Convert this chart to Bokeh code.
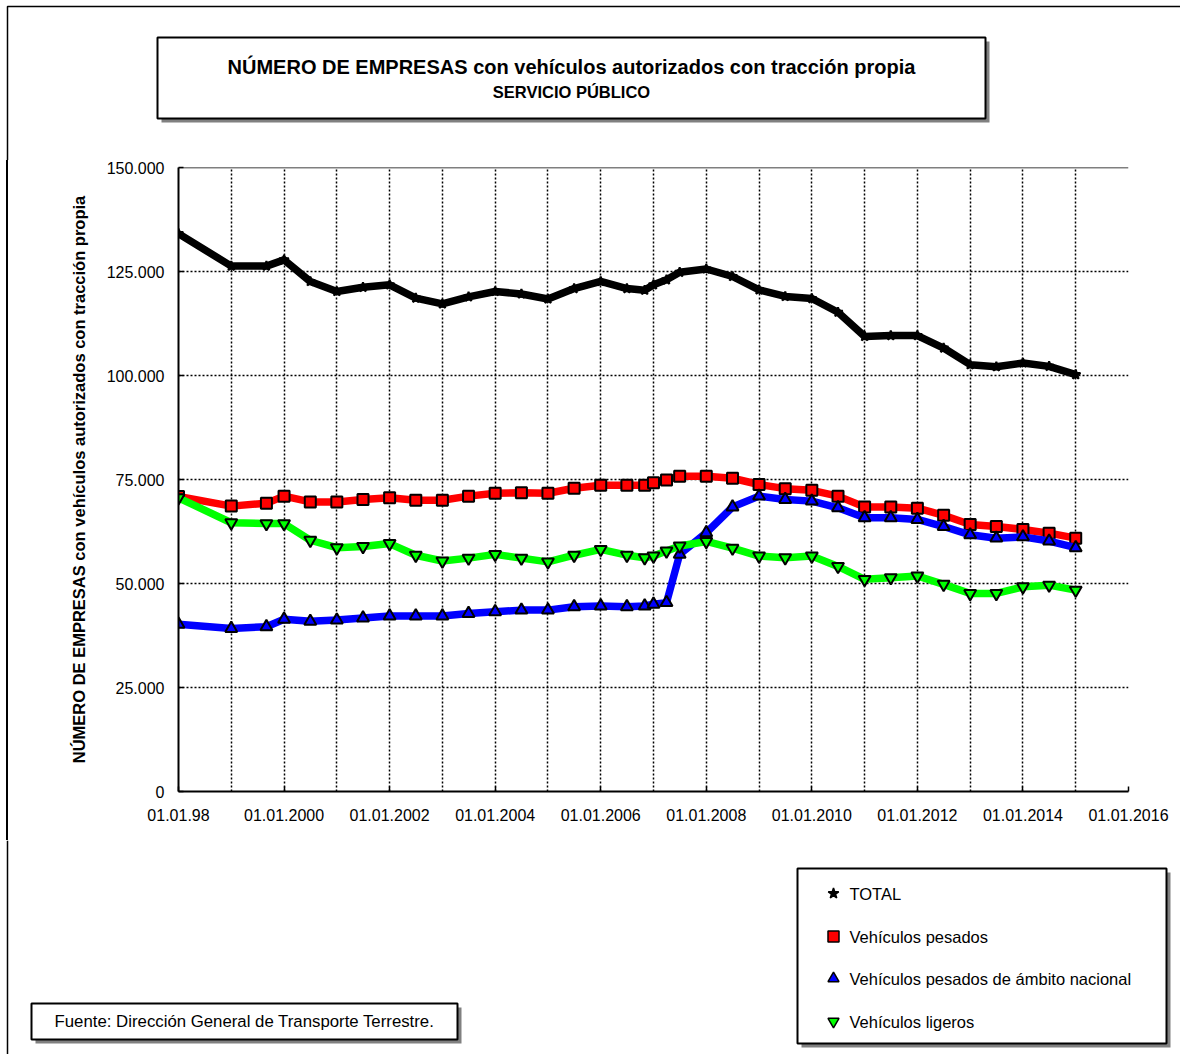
from datetime import date

from bokeh.plotting import figure
from bokeh.layouts import column, row
from bokeh.models import Range1d, FixedTicker, Label, Span, Div, Spacer
from bokeh.embed import file_html
from bokeh.resources import INLINE

# ---------------- data ----------------
dates = ["01.01.1998", "01.01.1999", "01.09.1999", "01.01.2000", "01.07.2000",
         "01.01.2001", "01.07.2001", "01.01.2002", "01.07.2002", "01.01.2003",
         "01.07.2003", "01.01.2004", "01.07.2004", "01.01.2005", "01.07.2005",
         "01.01.2006", "01.07.2006", "01.11.2006", "01.01.2007", "01.04.2007",
         "01.07.2007", "01.01.2008", "01.07.2008", "01.01.2009", "01.07.2009",
         "01.01.2010", "01.07.2010", "01.01.2011", "01.07.2011", "01.01.2012",
         "01.07.2012", "01.01.2013", "01.07.2013", "01.01.2014", "01.07.2014",
         "01.01.2015"]

total = [134100, 126300, 126300, 127800, 122600, 120200, 121200, 121800, 118600,
         117200, 118900, 120200, 119600, 118400, 120900, 122600, 120900, 120500,
         121800, 123000, 124800, 125600, 123800, 120600, 119000, 118500, 115200,
         109400, 109600, 109600, 106600, 102600, 102100, 103000, 102200, 100200]

pesados = [70900, 68600, 69300, 71000, 69600, 69600, 70200, 70600, 70000,
           70000, 71000, 71700, 71800, 71700, 72900, 73600, 73600, 73600,
           74200, 74900, 75800, 75800, 75300, 73800, 72800, 72400, 71000,
           68400, 68400, 68100, 66400, 64200, 63700, 63000, 62100, 60900]

nacional = [40200, 39200, 39600, 41400, 40900, 41200, 41700, 42200, 42200,
            42200, 42800, 43200, 43600, 43600, 44400, 44600, 44400, 44600,
            45000, 45400, 57000, 62200, 68400, 71000, 70200, 69800, 68200,
            65800, 65800, 65400, 63700, 61700, 60900, 61200, 60200, 58600]

ligeros = [70600, 64600, 64400, 64400, 60400, 58600, 58900, 59600, 56800,
           55400, 56100, 57000, 56100, 55200, 56800, 58200, 56800, 56200,
           56600, 57800, 59000, 60100, 58500, 56600, 56200, 56600, 54100,
           51000, 51400, 51800, 49800, 47600, 47600, 49200, 49600, 48400]

series_names = ["TOTAL", "Vehículos pesados",
                "Vehículos pesados de ámbito nacional", "Vehículos ligeros"]

x_tick_years = [1998, 2000, 2002, 2004, 2006, 2008, 2010, 2012, 2014, 2016]
x_tick_labels = ["01.01.98", "01.01.2000", "01.01.2002", "01.01.2004",
                 "01.01.2006", "01.01.2008", "01.01.2010", "01.01.2012",
                 "01.01.2014", "01.01.2016"]
x_grid_years = list(range(1998, 2017))

y_ticks = [0, 25000, 50000, 75000, 100000, 125000, 150000]
y_tick_labels = ["0", "25.000", "50.000", "75.000", "100.000", "125.000", "150.000"]

title_text = "NÚMERO DE EMPRESAS con vehículos autorizados con tracción propia"
subtitle_text = "SERVICIO PÚBLICO"
ylabel_text = "NÚMERO DE EMPRESAS con vehículos autorizados con tracción propia"
source_text = "Fuente: Dirección General de Transporte Terrestre."


def frac_year(s):
    d, m, y = map(int, s.split("."))
    start, end = date(y, 1, 1), date(y + 1, 1, 1)
    return y + (date(y, m, d) - start).days / (end - start).days


xs = [frac_year(s) for s in dates]

# ---------------- layout geometry (page pixels) ----------------
FONT = "Liberation Sans"
W = 1180
TOP_H = 160                 # title band: y 0..160
MID_Y0, MID_H = 160, 680    # chart band: y 160..840
BOT_Y0, BOT_H = 840, 214    # bottom band: y 840..1054
PAD_W, LINE_W = 6, 2        # outer frame line in the chart band: x 6..8
STRIP_W = PAD_W + LINE_W
FR_L, FR_T, FR_R, FR_B = 178, 167, 1128, 791
FRAME_X, FRAME_Y = 7, 6     # outer frame lines

colors = ["black", "#ff0000", "#0000ff", "#00ff00"]
markers = ["star", "square", "triangle", "inverted_triangle"]
sizes = [10, 11, 12, 12]


def deco_fig(width, height, x0, y0):
    f = figure(width=width, height=height,
               x_range=Range1d(x0, x0 + width), y_range=Range1d(y0 + height, y0),
               min_border=0, x_axis_location=None, y_axis_location=None,
               toolbar_location=None, output_backend="svg",
               outline_line_color=None, background_fill_color="white",
               border_fill_color="white")
    f.xgrid.visible = False
    f.ygrid.visible = False
    return f


def boxed(f, l, t, r, b):
    f.quad(left=l + 4, right=r + 4, top=t + 4, bottom=b + 4,
           fill_color="#808080", line_alpha=0)
    f.quad(left=l, right=r, top=t, bottom=b, fill_color="white",
           line_color="black", line_width=2)


def text(f, x, y, s, size, bold=False, align="center"):
    f.add_layout(Label(x=x, y=y, text=s, text_align=align, text_baseline="middle",
                       text_font=FONT, text_font_size=size,
                       text_font_style="bold" if bold else "normal",
                       text_color="black"))


# ---------------- top band ----------------
top = deco_fig(W, TOP_H, 0, 0)
top.line([FRAME_X, FRAME_X, W], [TOP_H, FRAME_Y, FRAME_Y], line_color="black",
         line_width=1.5)
boxed(top, 157, 37, 985, 118)
text(top, 571, 66, title_text, "20px", bold=True)
text(top, 571, 91, subtitle_text, "16.5px", bold=True)

# ---------------- left frame line of the chart band ----------------
pad = Spacer(width=PAD_W, height=MID_H, margin=0)
vline = Div(text="", width=LINE_W, height=MID_H, margin=0,
            styles={"background-color": "black", "padding": "0"})

# ---------------- main chart ----------------
p = figure(frame_width=FR_R - FR_L, frame_height=FR_B - FR_T,
           min_border_left=FR_L - STRIP_W, min_border_top=FR_T - MID_Y0,
           min_border_right=W - FR_R, min_border_bottom=MID_Y0 + MID_H - FR_B,
           x_range=Range1d(1998, 2016), y_range=Range1d(0, 150000),
           output_backend="svg", toolbar_location=None,
           background_fill_color="white", border_fill_color="white",
           outline_line_color=None)

p.xaxis.ticker = FixedTicker(ticks=x_tick_years)
p.xaxis.major_label_overrides = {t: l for t, l in zip(x_tick_years, x_tick_labels)}
p.yaxis.ticker = FixedTicker(ticks=y_ticks)
p.yaxis.major_label_overrides = {t: l for t, l in zip(y_ticks, y_tick_labels)}
for ax in (p.xaxis[0], p.yaxis[0]):
    ax.axis_line_color = "black"
    ax.axis_line_width = 2
    ax.major_tick_in = 5
    ax.major_tick_out = 0
    ax.major_tick_line_color = "black"
    ax.major_tick_line_width = 1.5
    ax.minor_tick_line_color = None
    ax.major_label_text_font = FONT
    ax.major_label_text_font_size = "16px"
    ax.major_label_text_color = "black"
    ax.major_label_standoff = 14
p.xaxis.major_label_standoff = 17
p.yaxis.axis_label = ylabel_text
p.yaxis.axis_label_text_font = FONT
p.yaxis.axis_label_text_font_size = "16.5px"
p.yaxis.axis_label_text_font_style = "bold"
p.yaxis.axis_label_text_color = "black"
p.yaxis.axis_label_standoff = 16

p.xgrid.ticker = FixedTicker(ticks=x_grid_years)
p.ygrid.ticker = FixedTicker(ticks=y_ticks)
for g in (p.xgrid[0], p.ygrid[0]):
    g.grid_line_color = "black"
    g.grid_line_dash = "2 2"
    g.grid_line_width = 1.5
p.add_layout(Span(location=150000, dimension="width", line_color="black",
                  line_width=1.5))

values = [total, pesados, nacional, ligeros]
for vals, col, mk, sz in zip(values, colors, markers, sizes):
    p.line(xs, vals, line_color=col, line_width=7.5, line_join="round")
    p.scatter(xs, vals, marker=mk, size=sz, fill_color=col,
              line_color="black", line_width=2)

# ---------------- bottom band ----------------
bot = deco_fig(W, BOT_H, 0, BOT_Y0)
bot.line([FRAME_X, FRAME_X], [BOT_Y0, BOT_Y0 + BOT_H], line_color="black",
         line_width=1.5)
boxed(bot, 31, 1003, 457, 1039)
text(bot, 244, 1021, source_text, "16.8px")

# legend (box, key symbols and labels)
boxed(bot, 797, 868, 1166, 1043)
LEG_KEY_X, LEG_TEXT_X = 833, 849
LEG_ROWS_Y = [893, 936, 978, 1021]
for name, col, mk, ry in zip(series_names, colors, markers, LEG_ROWS_Y):
    bot.scatter([LEG_KEY_X], [ry], marker=mk, size=11, fill_color=col,
                line_color="black", line_width=1.5)
    text(bot, LEG_TEXT_X, ry, name, "16.5px", align="left")

layout = column(top, row(pad, vline, p), bot)
open("out.html", "w").write(file_html(layout, INLINE))
